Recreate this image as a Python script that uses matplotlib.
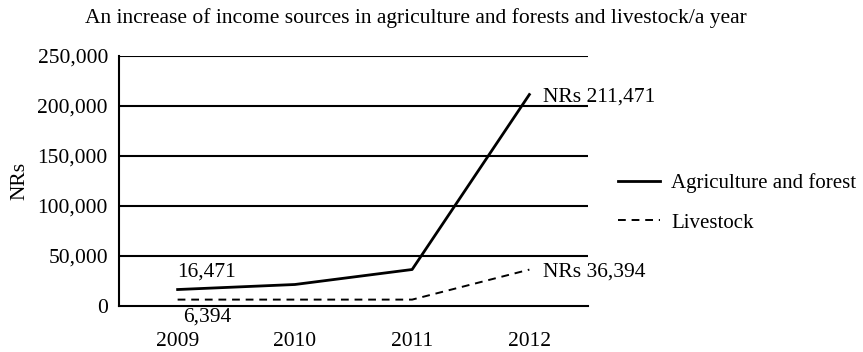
import matplotlib
matplotlib.use("Agg")
import matplotlib.pyplot as plt

years = ["2009", "2010", "2011", "2012"]
agriculture = [16471, 21500, 36500, 211471]
livestock = [6394, 6394, 6394, 36394]
yticks = [0, 50000, 100000, 150000, 200000, 250000]

plt.rcParams["font.family"] = ["Liberation Serif", "DejaVu Serif"]
FS = 15.5

fig = plt.figure(figsize=(8.63, 3.52), dpi=100)
ax = fig.add_axes([119 / 863, 46 / 352, (588 - 119) / 863, 250 / 352])

x = list(range(len(years)))
ax.plot(x, agriculture, color="black", lw=2, label="Agriculture and forest")
ax.plot(x, livestock, color="black", lw=1.4, ls=(0, (4, 3)), label="Livestock")

ax.set_xlim(-0.5, 3.5)
ax.set_ylim(0, 250000)
ax.set_yticks(yticks)
ax.set_yticklabels([f"{v:,}" for v in yticks], fontsize=FS)
ax.set_xticks(x)
ax.set_xticklabels(years, fontsize=FS)
ax.tick_params(length=0, pad=8)
ax.tick_params(axis="x", pad=19)
for v in yticks[1:]:
    ax.axhline(v, color="black", lw=1.5, zorder=0)
for s in ["top", "right"]:
    ax.spines[s].set_visible(False)
for s in ["left", "bottom"]:
    ax.spines[s].set_linewidth(1.5)

ax.set_ylabel("NRs", fontsize=FS, labelpad=6)

ax.annotate(f"{agriculture[0]:,}", (0, agriculture[0]), xytext=(0, 6),
            textcoords="offset points", fontsize=FS, va="bottom", ha="left")
ax.annotate(f"{livestock[0]:,}", (0, livestock[0]), xytext=(4, -6),
            textcoords="offset points", fontsize=FS, va="top", ha="left")
ax.annotate(f"NRs {agriculture[3]:,}", (3, agriculture[3]), xytext=(10, -2),
            textcoords="offset points", fontsize=FS, va="center", ha="left",
            annotation_clip=False)
ax.annotate(f"NRs {livestock[3]:,}", (3, livestock[3]), xytext=(10, -2),
            textcoords="offset points", fontsize=FS, va="center", ha="left",
            annotation_clip=False)

fig.legend(loc="center left", bbox_to_anchor=(618 / 863, 1 - 203 / 352),
           frameon=False, fontsize=15, handlelength=2.0, handletextpad=0.55,
           labelspacing=0.95, borderpad=0, borderaxespad=0)

fig.text(416 / 863, 1 - 18 / 352,
         "An increase of income sources in agriculture and forests and livestock/a year",
         ha="center", va="center", fontsize=FS)

fig.savefig("out.png", dpi=100)
